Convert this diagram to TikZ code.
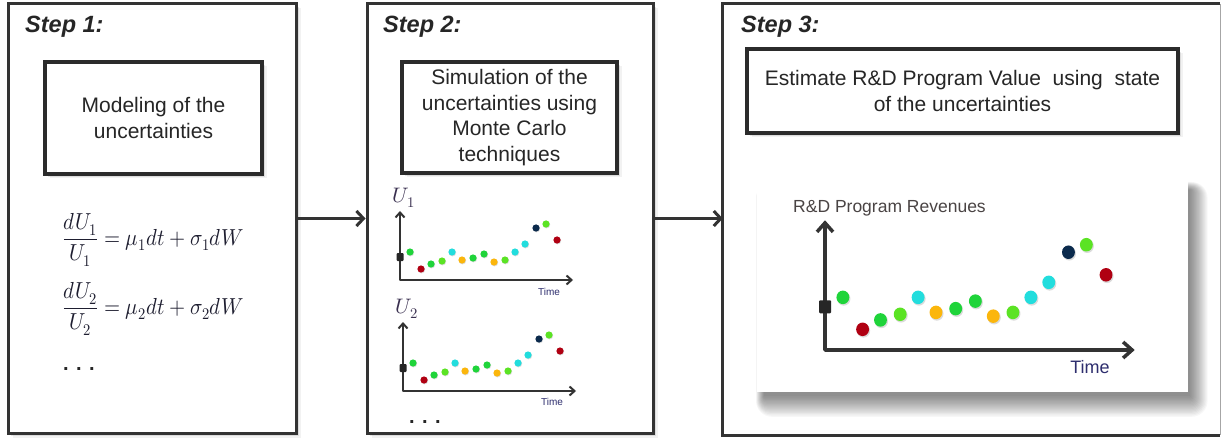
\documentclass[tikz,border=0pt]{standalone}
\usepackage{graphicx}
\usepackage{fontspec}
\usepackage{unicode-math}
\setmainfont{Liberation Sans}
\usetikzlibrary{arrows.meta,shadows}

\definecolor{ink}{HTML}{333333}
\definecolor{boxink}{HTML}{2B2B2B}
\definecolor{txt}{HTML}{262626}
\definecolor{eqc}{HTML}{1E1E30}
\definecolor{timec}{HTML}{2E2E6E}
\definecolor{ulab}{HTML}{3A3050}
\definecolor{revc}{HTML}{4A4444}
\definecolor{gA}{HTML}{1FD43A}
\definecolor{gB}{HTML}{5BE324}
\definecolor{rd}{HTML}{B00012}
\definecolor{cy}{HTML}{22DDDD}
\definecolor{og}{HTML}{FBB60C}
\definecolor{nv}{HTML}{0B2A4C}

% one sample path: x / y / colour, relative to the axis corner
\def\trend{10/-28/gA,21/-11/rd,31/-16/gA,42/-19/gB,52/-28/cy,62/-20/og,73/-22/gA,84/-26/gA,94/-18/og,105/-20/gB,115/-28/cy,125/-36/cy,136/-52/nv,146/-56/gB,157/-40/rd}

% #1 name prefix, #2 axis width, #3 arrow length, #4 arrow width, #5 marker size
\newcommand\trendplot[5]{%
  \coordinate (#1o) at (0,0);
  \coordinate (#1y) at (0,-69);
  \coordinate (#1x) at (173,0);
  \draw[line width=#2, ink, line join=round,
        {Straight Barb[length=#3,width=#4]}-{Straight Barb[length=#3,width=#4]}]
        (#1y) -- (#1o) -- (#1x);
  \foreach \dx/\dy/\dc in \trend {
    \fill[black!40, opacity=.35] (\dx+.5,\dy+.7) circle (3.7);
    \fill[\dc] (\dx,\dy) circle (3.6);
  }
  \node[fill=black!85, rounded corners=1pt, minimum width=#5, minimum height=#5+1pt,
        inner sep=0pt] (#1m) at (0,-23) {};
}

% equation set a little taller, as in the source typeface
\newcommand\eqbox[1]{\scalebox{1.09}[1.22]{$\displaystyle #1$}}

\tikzset{
  softshadow/.style={
    general shadow={shadow xshift=1.5pt,shadow yshift=-1.5pt,fill=black,opacity=.14},
    general shadow={shadow xshift=3pt,shadow yshift=-3pt,fill=black,opacity=.09},
    general shadow={shadow xshift=4.5pt,shadow yshift=-4.5pt,fill=black,opacity=.05}},
  panel/.style={draw=ink, line width=3pt, fill=white, inner sep=0pt, softshadow},
  inbox/.style={draw=boxink, line width=3.5pt, fill=white, inner sep=0pt, align=center,
    text=txt, font=\fontsize{21}{25.5}\selectfont, softshadow},
  steplabel/.style={font=\fontsize{23.5}{26}\selectfont\bfseries\itshape, text=txt,
    inner sep=0pt},
  conn/.style={draw=ink, line width=3pt, -{Straight Barb[length=7pt,width=15pt]}},
  eq/.style={text=eqc, font=\fontsize{19}{22}\selectfont, inner sep=0pt},
  dots/.style={text=txt, font=\fontsize{20}{24}\selectfont\bfseries, inner sep=0pt},
  ulabel/.style={text=ulab, font=\fontsize{21}{24}\selectfont, inner sep=0pt},
  smalltime/.style={text=timec, font=\fontsize{10}{12}\selectfont, inner sep=0pt},
}

\begin{document}
\begin{tikzpicture}[x=1pt,y=-1pt]
\useasboundingbox (0,0) rectangle (1222,438);
\fill[white] (0,0) rectangle (1222,438);

% the three step panels
\node[panel, minimum width=288pt, minimum height=429pt] (p1) at (152,218.5) {};
\node[panel, minimum width=286pt, minimum height=429pt] (p2) at (510,218.5) {};
\node[fill=white, inner sep=0pt, minimum width=497pt, minimum height=431pt] (p3) at (971.5,219.5) {};
\draw[ink, line width=3pt] (p3.north east) -- (p3.north west) -- (p3.south west) -- (p3.south east);
\draw[black!35, line width=1pt] (p3.north east) -- (p3.south east);

% connectors between steps
\draw[conn] (p1.east) -- (p2.west);
\draw[conn] (p2.east) -- (p2.east -| p3.west);

% step titles
\node[steplabel, anchor=base west] (s1) at (25,33) {Step 1:};
\node[steplabel, anchor=base west] (s2) at (383,33) {Step 2:};
\node[steplabel, anchor=base west] (s3) at (741,33) {Step 3:};

% step boxes
\node[inbox, minimum width=217pt, minimum height=112pt] (b1) at (153.5,118)
  {Modeling of the\\uncertainties};
\node[inbox, minimum width=215pt, minimum height=111pt] (b2) at (509.5,117.5)
  {Simulation of the\\uncertainties using\\Monte Carlo\\techniques};
\node[inbox, minimum width=431pt, minimum height=84pt] (b3) at (962.5,91)
  {Estimate R\&D Program Value\ \ using\ \ state\\of the uncertainties};

% step 1: the stochastic processes
\node[eq] (e1) at (153,240) {\eqbox{\frac{dU_1}{U_1}=\mu_1dt+\sigma_1dW}};
\node[eq] (e2) at (153,309) {\eqbox{\frac{dU_2}{U_2}=\mu_2dt+\sigma_2dW}};
\node[dots, anchor=base west] (d1) at (63,370) {. . .};

% step 2: simulated paths
\begin{scope}[shift={(400,280)}]
  \trendplot{c1}{2pt}{5pt}{9pt}{7pt}
\end{scope}
\node[ulabel] (u1) at (404,198) {$U_1$};
\node[smalltime] (t1) at (549,292) {Time};

\begin{scope}[shift={(403,391)}]
  \trendplot{c2}{2pt}{5pt}{9pt}{7pt}
\end{scope}
\node[ulabel] (u2) at (407,309) {$U_2$};
\node[smalltime] (t2) at (552,402) {Time};
\node[dots, anchor=base west] (d2) at (409,423) {. . .};

% step 3: revenue chart on a card with a soft shadow
\foreach \k in {0,...,16}
  \fill[black, opacity=.03, rounded corners=\k pt]
    (764-\k*.5,190-\k*.5) rectangle (1190+\k*1.1,396+\k*1.3);
\node[fill=white, inner sep=0pt, minimum width=431pt, minimum height=212pt] (card) at (972.5,286) {};
\begin{scope}[shift={(825,350)}, xscale=1.79, yscale=1.88]
  \trendplot{c3}{3.5pt}{9pt}{16pt}{12pt}
\end{scope}
\node[text=revc, font=\fontsize{17.5}{20}\selectfont, anchor=base west, inner sep=0pt]
  (rev) at (793,213) {R\&D Program Revenues};
\node[text=timec, font=\fontsize{18}{20}\selectfont, inner sep=0pt] (t3) at (1090,367) {Time};
\end{tikzpicture}
\end{document}
